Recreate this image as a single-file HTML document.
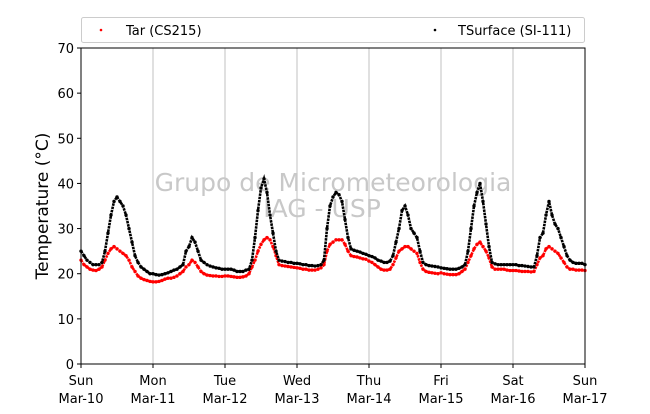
<!DOCTYPE html>
<html><head><meta charset="utf-8"><style>
body{margin:0;background:#fff}
svg text{font-family:"DejaVu Sans","Liberation Sans",sans-serif}
</style></head><body>
<svg id="chart" width="650" height="409" viewBox="0 0 650 409">
<g id="grid"></g>
<g id="wm">
<text x="333" y="191" font-size="25" fill="#c8c8c8" text-anchor="middle">Grupo de Micrometeorologia</text>
<text x="322" y="217" font-size="25" fill="#c8c8c8" text-anchor="middle">IAG - USP</text>
</g>
<g id="series"></g>
<rect x="81" y="48" width="504" height="316" fill="none" stroke="#000" stroke-width="1"/>
<g id="axes"></g>
<text transform="translate(48,206) rotate(-90)" font-size="17" text-anchor="middle">Temperature (°C)</text>
<g>
<rect x="81.5" y="17.5" width="503" height="25" rx="2" fill="#fff" stroke="#ccc"/>
<circle cx="101" cy="30" r="1.3" fill="#f00"/>
<text x="126" y="35" font-size="13">Tar (CS215)</text>
<circle cx="435" cy="30" r="1.3" fill="#000"/>
<text x="458" y="35" font-size="13">TSurface (SI-111)</text>
</g>
</svg>
<script>
const dayLabels=["Sun","Mon","Tue","Wed","Thu","Fri","Sat","Sun"];
const dateLabels=["Mar-10","Mar-11","Mar-12","Mar-13","Mar-14","Mar-15","Mar-16","Mar-17"];
const yTicks=[0,10,20,30,40,50,60,70];
const tsurface=[25,24,23,22.5,22,22,22,22.5,25,29,33,36,37,36,35,33,30,27,24,22.5,21.5,21,20.5,20,
20,19.8,19.7,19.8,20,20.2,20.5,20.8,21,21.5,22,25,26,28,27,25,23,22.5,22,21.7,21.5,21.3,21.2,21,
21,21,21,20.8,20.5,20.5,20.5,20.8,21,23,28,34,39,41,38,33,29,25,23,22.8,22.7,22.5,22.5,22.3,
22.3,22.2,22,22,21.8,21.8,21.7,21.8,22,23,30,35,37,38,37.5,36,32,28,25.5,25.2,25,24.8,24.5,24.3,
24,23.8,23.5,23,22.8,22.5,22.5,22.8,24,27,30,34,35,33,30,29,28,25,22.5,22,21.8,21.7,21.6,21.5,
21.3,21.2,21.1,21,21,21,21.2,21.5,22,25,30,35,38,40,36,31,26,22.5,22.2,22,22,22,22,22,
22,22,21.8,21.8,21.7,21.6,21.5,21.5,24,28,29,33,36,33,31,30,28,26,24,23,22.5,22.3,22.3,22.3,22];
const tar=[23,22,21.5,21,20.8,20.7,21,21.5,23,24.5,25.5,26,25.5,25,24.5,24,23,21.5,20.5,19.5,19,18.7,18.5,18.3,
18.2,18.2,18.3,18.5,18.8,19,19,19.2,19.5,20,20.5,21.5,22,23,22.5,21.5,20.5,20,19.7,19.6,19.5,19.5,19.4,19.4,
19.5,19.5,19.4,19.3,19.2,19.2,19.3,19.5,20,21.5,23,25,26.5,27.5,28,27.5,26,24,22,21.8,21.7,21.6,21.5,21.4,
21.3,21.2,21,21,20.8,20.8,20.8,21,21.3,22,25,26.5,27,27.5,27.5,27.5,26.5,25,24,23.8,23.7,23.5,23.3,23.2,
22.8,22.5,22,21.5,21,20.8,20.8,21,22,23.5,25,25.5,26,26,25.5,25,24.5,22.5,21,20.5,20.3,20.2,20.1,20,
20.2,20,19.9,19.8,19.8,19.8,20,20.5,21,22.5,24,25.5,26.5,27,26,25,23.5,21.5,21,21,21,21,20.8,20.7,
20.7,20.7,20.6,20.5,20.5,20.5,20.4,20.5,22,23.5,24,25.5,26,25.5,25,24.5,23.5,22.5,21.5,21,21,20.8,20.8,20.8,20.7];

const X0=81,X1=585,Y0=364,Y1=48;
const xs=h=>X0+h*(X1-X0)/168;
const ys=v=>Y0-v*(Y0-Y1)/70;
const NS="http://www.w3.org/2000/svg";
function mk(tag,attrs,parent){const e=document.createElementNS(NS,tag);for(const k in attrs)e.setAttribute(k,attrs[k]);parent.appendChild(e);return e;}
const grid=document.getElementById('grid'),axes=document.getElementById('axes'),series=document.getElementById('series');
dayLabels.forEach((d,i)=>{
  const x=xs(i*24);
  if(i>0&&i<7){const l=mk('line',{x1:x,x2:x,y1:Y1,y2:Y0,stroke:'#c0c0c0','stroke-width':1},grid);
  
  }
  const t=mk('line',{x1:x,x2:x,y1:Y0,y2:Y0+4,stroke:'#000'},axes);
  
  
  const a=mk('text',{x:x,y:385,'font-size':13,'text-anchor':'middle'},axes);a.textContent=d;
  
  
  const b=mk('text',{x:x,y:403,'font-size':13,'text-anchor':'middle'},axes);b.textContent=dateLabels[i];
  
  
});
yTicks.forEach(v=>{
  const y=ys(v);
  const t=mk('line',{x1:X0-4,x2:X0,y1:y,y2:y,stroke:'#000'},axes);
  
  
  const l=mk('text',{x:X0-7,y:y+5,'font-size':13,'text-anchor':'end'},axes);l.textContent=v;
  
  
});
function draw(arr,color,name){
  const g=mk('g',{},series);
  
  
  const p=mk('polyline',{points:arr.map((v,i)=>xs(i)+','+ys(v)).join(' '),fill:'none',stroke:color,'stroke-width':2.6,'stroke-dasharray':'2.5 0.8'},g);
  
  
  arr.forEach((v,i)=>{const c=mk('circle',{cx:xs(i),cy:ys(v),r:1.7,fill:color},g);
    
    });
}
draw(tar,'#f00','tar');
draw(tsurface,'#000','tsurface');
</script>
</body></html>
